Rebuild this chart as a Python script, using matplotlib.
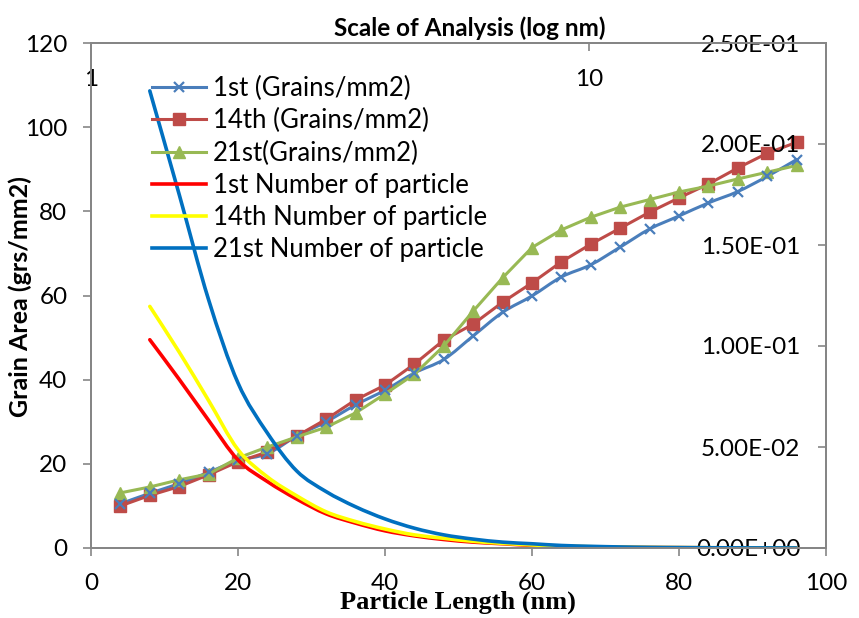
import matplotlib
matplotlib.use("Agg")
import matplotlib.pyplot as plt
from matplotlib.path import Path
from matplotlib.patches import PathPatch
from matplotlib.lines import Line2D
from matplotlib.ticker import FixedLocator, FuncFormatter, NullLocator
import numpy as np

# ---- data -------------------------------------------------------------
grain_x = [4, 8, 12, 16, 20, 24, 28, 32, 36, 40, 44, 48,
           52, 56, 60, 64, 68, 72, 76, 80, 84, 88, 92, 96]
grains_1st = [10.5, 13.0, 15.3, 18.0, 20.8, 22.4, 26.6, 30.0, 34.0, 37.5, 41.6, 44.8,
              50.4, 56.0, 59.9, 64.4, 67.3, 71.5, 75.8, 78.9, 82.0, 84.7, 88.3, 92.3]
grains_14th = [10.0, 12.5, 14.6, 17.4, 20.5, 22.8, 26.6, 30.6, 35.2, 38.7, 43.7, 49.4,
               53.2, 58.4, 63.0, 68.0, 72.2, 76.0, 79.8, 83.2, 86.5, 90.3, 93.8, 96.4]
grains_21st = [13.1, 14.5, 16.2, 17.6, 21.4, 24.0, 26.4, 28.7, 32.1, 36.6, 41.3, 48.0,
               56.3, 64.2, 71.4, 75.6, 78.6, 81.0, 82.8, 84.6, 86.0, 87.7, 89.3, 90.9]

count_x = [8, 12, 16, 20, 24, 28, 32, 36, 40, 44, 48, 52,
           56, 60, 64, 68, 72, 76, 80, 84, 88, 92, 96]
count_1st = [0.1031, 0.0835, 0.0632, 0.0436, 0.0329, 0.0242, 0.0169, 0.0123, 0.0085, 0.0060,
             0.0042, 0.0029, 0.0021, 0.00125, 0.00083, 0.00056, 0.00038, 0.00025, 0.00017,
             0.00010, 0.00006, 0.00004, 0.00002]
count_14th = [0.1196, 0.0970, 0.0730, 0.0487, 0.0352, 0.0258, 0.0179, 0.0131, 0.0094, 0.0065,
              0.0048, 0.0033, 0.0023, 0.0015, 0.00094, 0.00063, 0.00042, 0.00027, 0.00019,
              0.00013, 0.00008, 0.00004, 0.00002]
count_21st = [0.2263, 0.1750, 0.1229, 0.0817, 0.0569, 0.0381, 0.0279, 0.0204, 0.0144, 0.0098,
              0.0065, 0.0044, 0.0029, 0.0021, 0.00125, 0.00083, 0.00052, 0.00031, 0.00021,
              0.00013, 0.00008, 0.00006, 0.00004]

left_ticks = [0, 20, 40, 60, 80, 100, 120]
bottom_ticks = [0, 20, 40, 60, 80, 100]
right_ticks = [0.0, 0.05, 0.10, 0.15, 0.20, 0.25]
top_ticks = [1, 10]

grain_labels = ["1st (Grains/mm2)", "14th (Grains/mm2)", "21st(Grains/mm2)"]
count_labels = ["1st Number of particle", "14th Number of particle", "21st Number of particle"]

# ---- style ------------------------------------------------------------
FONT = "Lato"
AXIS_GREY = "#868686"
C_BLUE, C_RED, C_GREEN = "#4A7EBB", "#BE4B48", "#98B954"
N_RED, N_YELLOW, N_BLUE = "#FF0000", "#FFFF00", "#0070C0"
TICK_FS = 17.5
LEGEND_FS = 18.5


def smooth_path(xs, ys):
    """Bezier path through the points (Catmull-Rom style smoothing)."""
    p = np.column_stack([xs, ys]).astype(float)
    n = len(p)
    verts = [p[0]]
    codes = [Path.MOVETO]
    for i in range(n - 1):
        p0 = p[i - 1] if i > 0 else p[i]
        p1, p2 = p[i], p[i + 1]
        p3 = p[i + 2] if i + 2 < n else p[i + 1]
        c1 = p1 + (p2 - p0) / 6.0
        c2 = p2 - (p3 - p1) / 6.0
        verts += [c1, c2, p2]
        codes += [Path.CURVE4] * 3
    return Path(verts, codes)


fig = plt.figure(figsize=(8.59, 6.18), dpi=100)
ax = fig.add_axes([91 / 859, 1 - 548 / 618, (826 - 91) / 859, (548 - 43) / 618])

# grain area series (primary axis)
ax.add_patch(PathPatch(smooth_path(grain_x, grains_1st), fill=False,
                       edgecolor=C_BLUE, lw=2.2, zorder=3))
ax.plot(grain_x, grains_1st, ls="none", marker="x", ms=6.5, mew=1.6,
        color=C_BLUE, zorder=4)
ax.plot(grain_x, grains_14th, color=C_RED, lw=2.2, marker="s", ms=8,
        zorder=3)
ax.plot(grain_x, grains_21st, color=C_GREEN, lw=2.2, marker="^", ms=8,
        zorder=3)

ax.set_xlim(0, 100)
ax.set_ylim(0, 120)
ax.xaxis.set_major_locator(FixedLocator(bottom_ticks))
ax.yaxis.set_major_locator(FixedLocator(left_ticks))
ax.tick_params(axis="both", direction="out", length=6, width=1.2,
               color=AXIS_GREY, labelsize=TICK_FS)
ax.tick_params(axis="y", pad=11)
ax.tick_params(axis="x", pad=12)
for lab in ax.get_xticklabels() + ax.get_yticklabels():
    lab.set_family(FONT)

# number of particles (secondary right axis)
ax2 = ax.twinx()
for ys, col in ((count_1st, N_RED), (count_14th, N_YELLOW), (count_21st, N_BLUE)):
    ax2.add_patch(PathPatch(smooth_path(count_x, ys), fill=False,
                            edgecolor=col, lw=2.6, capstyle="round", zorder=3))
ax2.set_ylim(0, 0.25)
ax2.yaxis.set_major_locator(FixedLocator(right_ticks))
ax2.yaxis.set_major_formatter(FuncFormatter(lambda v, _: f"{v:.2E}"))
ax2.tick_params(axis="y", direction="in", length=6, width=1.2,
                color=AXIS_GREY, labelsize=TICK_FS, pad=-18.5)
for lab in ax2.get_yticklabels():
    lab.set_family(FONT)
    lab.set_horizontalalignment("right")

# log scale along the top
ax3 = ax.twiny()
ax3.set_xscale("log")
ax3.set_xlim(1, 29.9)
ax3.xaxis.set_major_locator(FixedLocator(top_ticks))
ax3.xaxis.set_minor_locator(NullLocator())
ax3.xaxis.set_major_formatter(FuncFormatter(lambda v, _: f"{v:g}"))
ax3.tick_params(axis="x", direction="in", length=6, width=1.2,
                color=AXIS_GREY, labelsize=TICK_FS, pad=-34)
for lab in ax3.get_xticklabels():
    lab.set_family(FONT)

for a in (ax, ax2, ax3):
    for sp in a.spines.values():
        sp.set_color(AXIS_GREY)
        sp.set_linewidth(1.4)

# titles
fig.text(20 / 859, 1 - 297 / 618, "Grain Area (grs/mm2)", family=FONT,
         fontweight="bold", fontsize=18, rotation=90, ha="center", va="center")
fig.text(470 / 859, 1 - 28 / 618, "Scale of Analysis (log nm)", family=FONT,
         fontweight="bold", fontsize=17.5, ha="center", va="center")
fig.text(458 / 859, 1 - 602 / 618, "Particle Length (nm)", family="Liberation Serif",
         fontweight="bold", fontsize=19, ha="center", va="center")

# legend
handles = [
    Line2D([], [], color=C_BLUE, lw=2.2, marker="x", ms=6.5, mew=1.6),
    Line2D([], [], color=C_RED, lw=2.2, marker="s", ms=8),
    Line2D([], [], color=C_GREEN, lw=2.2, marker="^", ms=8),
    Line2D([], [], color=N_RED, lw=2.6),
    Line2D([], [], color=N_YELLOW, lw=2.6),
    Line2D([], [], color=N_BLUE, lw=2.6),
]
leg = ax2.legend(handles, grain_labels + count_labels, loc="upper left",
                 bbox_to_anchor=((152 - 91) / 735, 1 - (76 - 43) / 505),
                 frameon=False, handlelength=2.1, handletextpad=0.28,
                 labelspacing=0.28, borderaxespad=0, borderpad=0,
                 prop={"family": FONT, "size": LEGEND_FS})

fig.savefig("out.png", dpi=100)
